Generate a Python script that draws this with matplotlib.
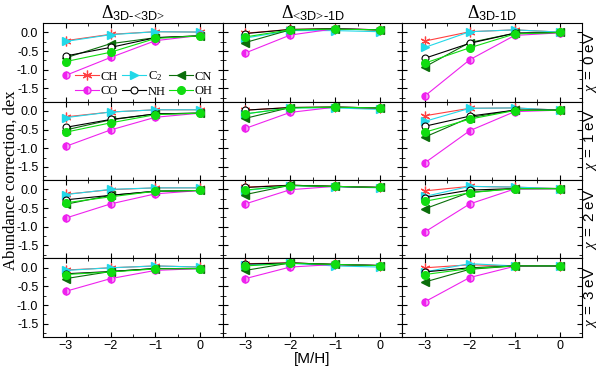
import numpy as np
import matplotlib
matplotlib.use("Agg")
import matplotlib.pyplot as plt
from matplotlib.ticker import MultipleLocator, FormatStrFormatter

plt.rcParams['font.family'] = ['Liberation Sans', 'DejaVu Sans']
plt.rcParams['mathtext.fontset'] = 'custom'
plt.rcParams['mathtext.rm'] = 'Liberation Serif'
plt.rcParams['mathtext.it'] = 'Liberation Serif:italic'
plt.rcParams['mathtext.bf'] = 'Liberation Serif:bold'
plt.rcParams['mathtext.sf'] = 'Liberation Sans'

metallicity = [-3, -2, -1, 0]
column_titles = [r'$\Delta_{\mathsf{3D}\text{-<}\mathsf{3D}\text{>}}$',
                 r'$\Delta_{\text{<}\mathsf{3D}\text{>-}\mathsf{1D}}$',
                 r'$\Delta_{\mathsf{3D}\text{-}\mathsf{1D}}$']
row_labels = [r'$\chi\ \mathsf{=\ 0\ eV}$', r'$\chi\ \mathsf{=\ 1\ eV}$',
              r'$\chi\ \mathsf{=\ 2\ eV}$', r'$\chi\ \mathsf{=\ 3\ eV}$']
species = ['CH', r'C$_2$', 'CN', 'CO', 'NH', 'OH']

# values[chi][panel] -> corrections at [M/H] = -3, -2, -1, 0
ch = [
    [[-0.22, -0.05, 0.02, 0.01], [-0.02, 0.08, 0.10, 0.07], [-0.23, 0.02, 0.07, 0.01]],
    [[-0.16, -0.03, 0.03, 0.03], [0.02, 0.09, 0.10, 0.08], [-0.13, 0.07, 0.08, 0.02]],
    [[-0.13, -0.01, 0.04, 0.04], [0.06, 0.11, 0.08, 0.05], [-0.04, 0.08, 0.06, 0.02]],
    [[-0.06, 0.00, 0.05, 0.02], [0.11, 0.13, 0.09, 0.06], [0.00, 0.08, 0.05, 0.05]],
]
c2 = [
    [[-0.24, -0.06, 0.02, 0.01], [-0.15, 0.05, 0.05, 0.02], [-0.40, 0.02, 0.07, 0.01]],
    [[-0.18, -0.03, 0.03, 0.03], [-0.08, 0.08, 0.08, 0.04], [-0.28, 0.07, 0.08, 0.02]],
    [[-0.14, 0.00, 0.04, 0.04], [-0.03, 0.10, 0.07, 0.04], [-0.19, 0.08, 0.06, 0.02]],
    [[-0.07, 0.00, 0.05, 0.02], [0.07, 0.12, 0.05, 0.02], [-0.11, 0.11, 0.05, 0.05]],
]
cn = [
    [[-0.68, -0.30, -0.14, -0.09], [-0.27, 0.07, 0.09, 0.07], [-0.92, -0.27, -0.02, 0.00]],
    [[-0.51, -0.24, -0.08, -0.06], [-0.20, 0.09, 0.10, 0.08], [-0.70, -0.18, 0.02, 0.02]],
    [[-0.40, -0.16, -0.05, -0.03], [-0.14, 0.11, 0.08, 0.05], [-0.52, -0.08, 0.02, 0.02]],
    [[-0.29, -0.10, -0.02, -0.02], [-0.07, 0.13, 0.09, 0.06], [-0.38, -0.04, 0.05, 0.05]],
]
co = [
    [[-1.15, -0.67, -0.22, -0.08], [-0.55, -0.07, 0.10, 0.07], [-1.70, -0.73, -0.08, -0.01]],
    [[-0.95, -0.51, -0.17, -0.06], [-0.47, -0.04, 0.10, 0.08], [-1.39, -0.53, -0.02, 0.02]],
    [[-0.77, -0.39, -0.12, -0.03], [-0.39, -0.01, 0.08, 0.05], [-1.14, -0.39, 0.01, 0.02]],
    [[-0.63, -0.29, -0.07, -0.02], [-0.29, 0.02, 0.09, 0.06], [-0.91, -0.26, 0.04, 0.05]],
]
nh = [
    [[-0.63, -0.40, -0.14, -0.09], [-0.03, 0.08, 0.10, 0.07], [-0.69, -0.29, -0.02, 0.00]],
    [[-0.44, -0.23, -0.08, -0.06], [0.02, 0.09, 0.10, 0.08], [-0.41, -0.14, 0.02, 0.02]],
    [[-0.28, -0.16, -0.05, -0.03], [0.05, 0.11, 0.08, 0.05], [-0.22, -0.02, 0.02, 0.02]],
    [[-0.16, -0.10, -0.02, -0.02], [0.10, 0.13, 0.09, 0.06], [-0.11, 0.00, 0.05, 0.05]],
]
oh = [
    [[-0.78, -0.53, -0.16, -0.09], [-0.12, 0.07, 0.09, 0.07], [-0.82, -0.41, -0.04, 0.00]],
    [[-0.57, -0.32, -0.10, -0.06], [-0.08, 0.08, 0.10, 0.08], [-0.57, -0.22, 0.01, 0.02]],
    [[-0.36, -0.20, -0.05, -0.03], [-0.02, 0.10, 0.08, 0.05], [-0.32, -0.09, 0.02, 0.02]],
    [[-0.18, -0.11, -0.03, -0.02], [0.05, 0.12, 0.09, 0.06], [-0.18, -0.02, 0.05, 0.05]],
]

series = [ch, c2, cn, co, nh, oh]
styles = [
    dict(color='#ff4040', marker=(6, 2, 0), markersize=7, mew=0.9),
    dict(color='#22d8e8', marker='>', markersize=6),
    dict(color='#0a6e0a', marker='<', markersize=6),
    dict(color='#ee22ee', marker='o', markersize=5, fillstyle='left',
         markerfacecoloralt='#f8a0f8'),
    dict(color='black', marker='o', markersize=5, markerfacecolor='white', mew=0.8),
    dict(color='#10dd10', marker='o', markersize=5.5),
]

fig, axes = plt.subplots(4, 3, figsize=(6.0, 3.67), dpi=100, sharex=True, sharey=True)
fig.subplots_adjust(left=0.072, right=0.97, top=0.937, bottom=0.082, hspace=0, wspace=0)

handles = []
for r in range(4):
    for c in range(3):
        ax = axes[r, c]
        for vals, st, name in zip(series, styles, species):
            ln, = ax.plot(metallicity, vals[r][c], lw=0.8, label=name, **st)
            if r == 0 and c == 0:
                handles.append(ln)
        ax.set_xlim(-3.5, 0.5)
        ax.set_ylim(-1.85, 0.25)
        ax.set_xticks(metallicity)
        ax.set_yticks([0.0, -0.5, -1.0, -1.5])
        ax.xaxis.set_minor_locator(MultipleLocator(0.5))
        ax.yaxis.set_minor_locator(MultipleLocator(0.25))
        ax.tick_params(which='both', direction='in', top=True, right=True, labelsize=9)
        ax.tick_params(which='major', length=3.5)
        ax.tick_params(which='minor', length=2)
        ax.tick_params(axis='x', pad=2)
        ax.yaxis.set_major_formatter(FormatStrFormatter('%.1f'))
        if r == 0:
            ax.set_title(column_titles[c], fontsize=13, pad=3)
        if c == 2:
            ax.text(1.045, 0.5, row_labels[r], transform=ax.transAxes, rotation=90,
                    ha='center', va='center', fontsize=11)

# legend row-wise: CH C2 CN / CO NH OH
order = [0, 3, 1, 4, 2, 5]
axes[0, 0].legend([handles[i] for i in order], [species[i] for i in order],
                  ncol=3, loc='lower right', bbox_to_anchor=(1.0, -0.08), frameon=False,
                  prop={'family': 'Liberation Serif', 'size': 9},
                  handlelength=1.9, columnspacing=0.3, handletextpad=0.15, labelspacing=0.2,
                  borderpad=0.3)

axes[3, 1].set_xlabel('[M/H]', fontsize=11, labelpad=0)
fig.text(0.018, 0.51, 'Abundance correction, dex', rotation=90, ha='center', va='center',
         fontsize=12, family='Liberation Serif')

fig.savefig('out.png', dpi=100)
